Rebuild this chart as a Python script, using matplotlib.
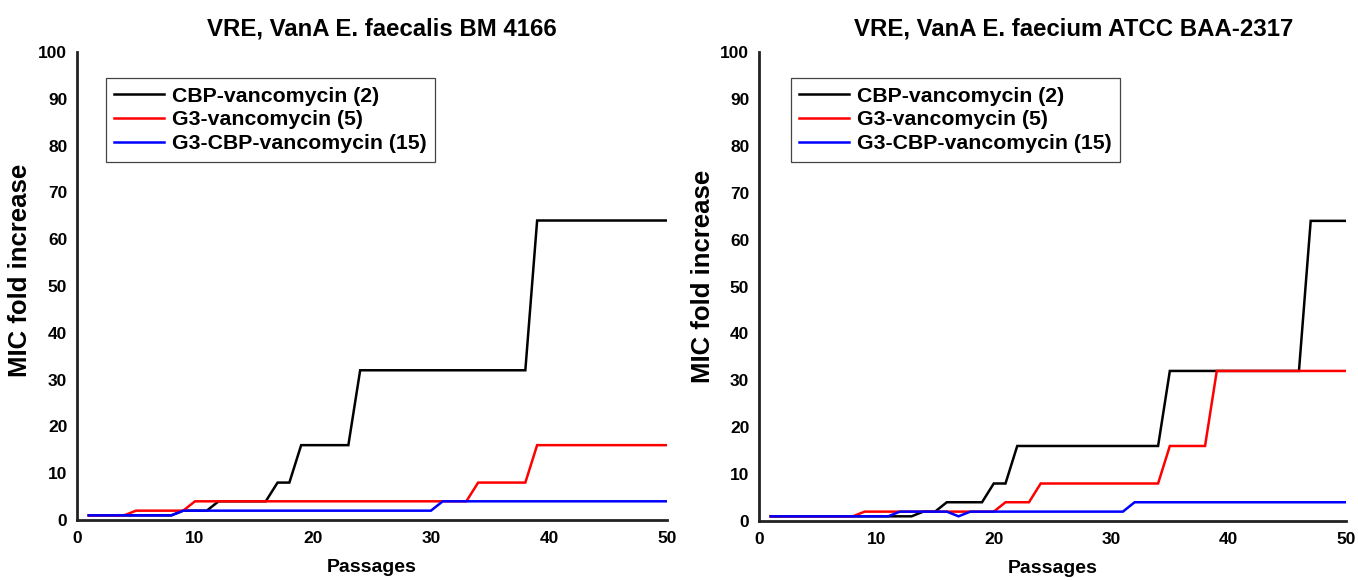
import matplotlib
matplotlib.use("Agg")
import matplotlib.pyplot as plt

plt.rcParams['font.family'] = ['Liberation Sans', 'DejaVu Sans']
plt.rcParams['font.weight'] = 'bold'

passages = list(range(1, 51))

# Left panel: VRE, VanA E. faecalis BM 4166
left_cbp = [1]*8 + [2]*3 + [4]*5 + [8]*2 + [16]*5 + [32]*15 + [64]*12
left_g3 = [1]*4 + [2]*5 + [4]*24 + [8]*5 + [16]*12
left_g3cbp = [1]*8 + [2]*22 + [4]*20

# Right panel: VRE, VanA E. faecium ATCC BAA-2317
right_cbp = [1]*13 + [2]*2 + [4]*4 + [8]*2 + [16]*13 + [32]*12 + [64]*4
right_g3 = [1]*8 + [2]*12 + [4]*3 + [8]*11 + [16]*4 + [32]*12
right_g3cbp = [1]*11 + [2]*5 + [1] + [2]*14 + [4]*19

series_labels = ["CBP-vancomycin (2)", "G3-vancomycin (5)", "G3-CBP-vancomycin (15)"]
series_colors = ["black", "#ff0000", "#0000ff"]
titles = ["VRE, VanA E. faecalis BM 4166", "VRE, VanA E. faecium ATCC BAA-2317"]
x_ticks = [0, 10, 20, 30, 40, 50]
y_ticks = [0, 10, 20, 30, 40, 50, 60, 70, 80, 90, 100]

fig = plt.figure(figsize=(13.58, 5.8), dpi=100)
ax_l = fig.add_axes([0.0567, 0.1034, 0.4344, 0.8069])
ax_r = fig.add_axes([0.5589, 0.1017, 0.4322, 0.8086])

panels = [
    # axes, data, title, legend x, title x, ylabel (x, y)
    (ax_l, [left_cbp, left_g3, left_g3cbp], titles[0], 0.049, 0.516, (-0.076, 0.534)),
    (ax_r, [right_cbp, right_g3, right_g3cbp], titles[1], 0.054, 0.536, (-0.075, 0.522)),
]

for ax, data, title, lx, tx, ylc in panels:
    for vals, lab, col in zip(data, series_labels, series_colors):
        ax.plot(passages, vals, color=col, lw=1.8, label=lab, solid_joinstyle='miter')
    ax.set_xlim(0, 50)
    ax.set_ylim(0, 100)
    ax.set_xticks(x_ticks)
    ax.set_yticks(y_ticks)
    ax.tick_params(axis='y', length=0, labelsize=12.5, pad=7)
    ax.tick_params(axis='x', length=0, labelsize=12.5, pad=8)
    for t in ax.get_xticklabels() + ax.get_yticklabels():
        t.set_fontweight('bold')
    for s in ['top', 'right']:
        ax.spines[s].set_visible(False)
    for s in ['left', 'bottom']:
        ax.spines[s].set_linewidth(2)
        ax.spines[s].set_color('#222222')
    ax.set_title(title, fontsize=17.3, fontweight='bold', pad=12, x=tx)
    ax.set_xlabel("Passages", fontsize=14, fontweight='bold', labelpad=9)
    ax.set_ylabel("MIC fold increase", fontsize=18.5, fontweight='bold')
    ax.yaxis.set_label_coords(ylc[0], ylc[1])
    leg = ax.legend(loc='upper left', bbox_to_anchor=(lx, 0.944), borderaxespad=0,
                    fancybox=False, edgecolor='#444444', framealpha=1,
                    prop={'weight': 'bold', 'size': 15.3}, handlelength=2.35,
                    labelspacing=0.22, borderpad=0.4, handletextpad=0.35)
    leg.get_frame().set_linewidth(0.9)

fig.savefig("out.png", dpi=100)
